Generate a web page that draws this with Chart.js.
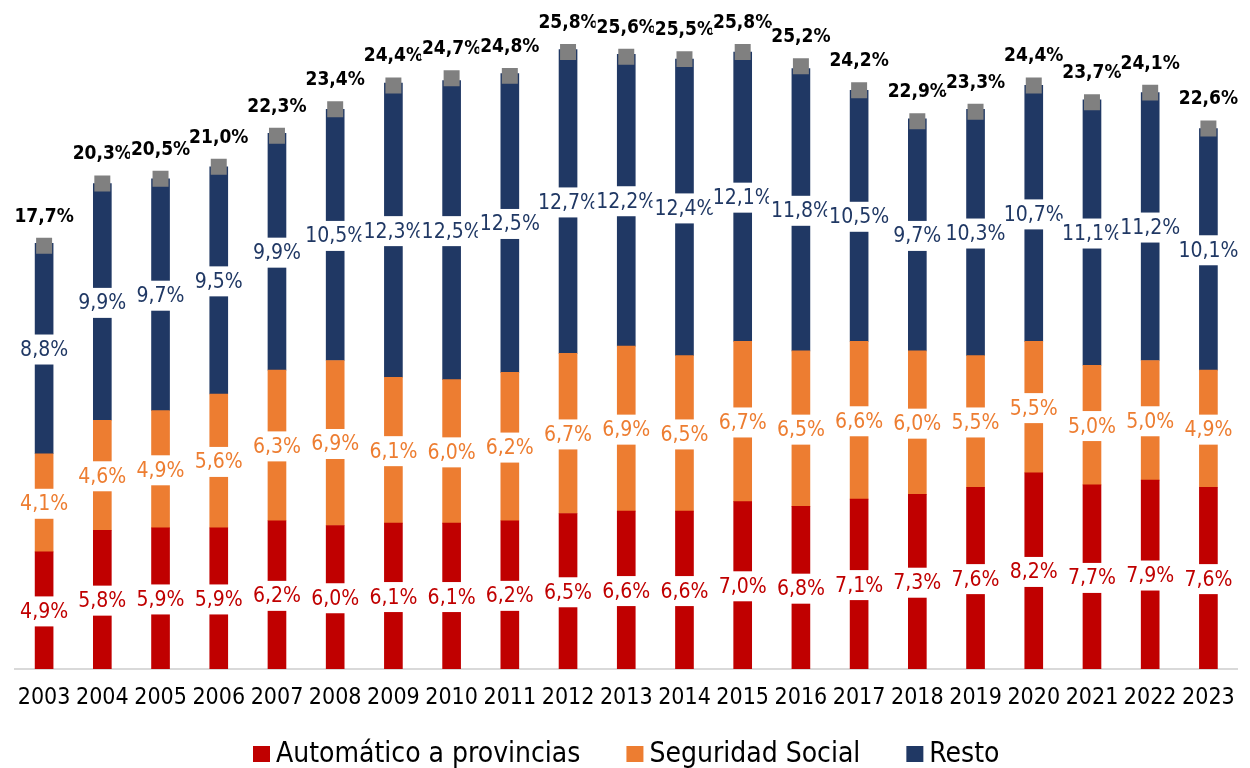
<!DOCTYPE html>
<html><head><meta charset="utf-8">
<script src="https://cdn.jsdelivr.net/npm/chart.js@4/dist/chart.umd.min.js"></script>
<style>html,body{margin:0;padding:0;background:#fff;overflow:hidden}</style>
</head><body>
<canvas id="c" width="1250" height="768" style="width:1250px;height:768px;display:block"></canvas>
<script>
const years = ['2003','2004','2005','2006','2007','2008','2009','2010','2011','2012','2013','2014','2015','2016','2017','2018','2019','2020','2021','2022','2023'];
const automatico = [4.9, 5.8, 5.9, 5.9, 6.2, 6.0, 6.1, 6.1, 6.2, 6.5, 6.6, 6.6, 7.0, 6.8, 7.1, 7.3, 7.6, 8.2, 7.7, 7.9, 7.6];
const seguridad  = [4.1, 4.6, 4.9, 5.6, 6.3, 6.9, 6.1, 6.0, 6.2, 6.7, 6.9, 6.5, 6.7, 6.5, 6.6, 6.0, 5.5, 5.5, 5.0, 5.0, 4.9];
const resto      = [8.8, 9.9, 9.7, 9.5, 9.9, 10.5, 12.3, 12.5, 12.5, 12.7, 12.2, 12.4, 12.1, 11.8, 10.5, 9.7, 10.3, 10.7, 11.1, 11.2, 10.1];
const totales    = [17.7, 20.3, 20.5, 21.0, 22.3, 23.4, 24.4, 24.7, 24.8, 25.8, 25.6, 25.5, 25.8, 25.2, 24.2, 22.9, 23.3, 24.4, 23.7, 24.1, 22.6];
const seriesNames = ['Automático a provincias', 'Seguridad Social', 'Resto'];

const FONT = '"DejaVu Sans Condensed", "DejaVu Sans", sans-serif';
const fmt = v => v.toFixed(1).replace('.', ',') + '%';

const labelPlugin = {
  id: 'segLabels',
  afterDatasetsDraw(chart) {
    const ctx = chart.ctx;
    ctx.save();
    ctx.textAlign = 'center';
    ctx.textBaseline = 'middle';
    chart.data.datasets.forEach((ds, di) => {
      const meta = chart.getDatasetMeta(di);
      if (ds.type === 'line') return;
      ctx.font = '21px ' + FONT;
      meta.data.forEach((el, i) => {
        const cy = (el.y + el.base) / 2 + 1;
        const txt = fmt(ds.data[i]);
        const w = ctx.measureText(txt).width + 4;
        ctx.fillStyle = '#ffffff';
        ctx.fillRect(el.x - w / 2, cy - 15, w, 30);
        ctx.fillStyle = ds.labelColor;
        ctx.fillText(txt, el.x, cy + 1);
      });
    });
    chart.data.datasets.forEach((ds, di) => {
      if (ds.type !== 'line') return;
      const meta = chart.getDatasetMeta(di);
      ctx.font = 'bold 19px ' + FONT;
      meta.data.forEach((el, i) => {
        const cy = el.y - 30;
        const txt = fmt(ds.data[i]);
        const w = ctx.measureText(txt).width + 2;
        ctx.fillStyle = '#ffffff';
        ctx.fillRect(el.x - w / 2, cy - 11, w, 22);
        ctx.fillStyle = '#000000';
        ctx.fillText(txt, el.x, cy + 1);
      });
    });
    ctx.restore();
  }
};

const legendPlugin = {
  id: 'bottomLegend',
  afterDraw(chart) {
    const ctx = chart.ctx;
    ctx.save();
    ctx.font = '28px ' + FONT;
    const items = chart.data.datasets.filter(d => d.type !== 'line');
    const box = 17, gap = 6, itemGap = 46;
    const widths = items.map(d => box + gap + ctx.measureText(d.label).width);
    const total = widths.reduce((a, b) => a + b, 0) + itemGap * (items.length - 1);
    const ca = chart.chartArea;
    let x = (ca.left + ca.right) / 2 - total / 2;
    const cy = 754;
    items.forEach((d, i) => {
      ctx.fillStyle = d.backgroundColor;
      ctx.fillRect(x, cy - 8, box, 16);
      ctx.fillStyle = '#000000';
      ctx.textAlign = 'left';
      ctx.textBaseline = 'middle';
      ctx.fillText(d.label, x + box + gap, cy + 1);
      x += widths[i] + itemGap;
    });
    ctx.restore();
  }
};

new Chart(document.getElementById('c'), {
  type: 'bar',
  data: {
    labels: years,
    datasets: [
      { label: seriesNames[0], data: automatico, backgroundColor: '#C00000', labelColor: '#C00000', barThickness: 18, stack: 's' },
      { label: seriesNames[1], data: seguridad, backgroundColor: '#ED7D31', labelColor: '#ED7D31', barThickness: 18, stack: 's' },
      { label: seriesNames[2], data: resto, backgroundColor: '#203864', labelColor: '#203864', barThickness: 18, stack: 's' },
      { type: 'line', label: 'Total', data: totales, showLine: false, pointStyle: 'rect', pointRadius: 11.3, pointHoverRadius: 11.3,
        pointBackgroundColor: '#808080', pointBorderWidth: 0, borderColor: '#808080', order: -1 }
    ]
  },
  options: {
    responsive: false,
    animation: false,
    devicePixelRatio: 1,
    layout: { padding: { left: 15, right: 7, top: 9, bottom: 0 } },
    plugins: { legend: { display: false }, tooltip: { enabled: false } },
    scales: {
      x: {
        stacked: true,
        grid: { display: false, drawTicks: false },
        border: { display: true, color: '#D9D9D9', width: 2 },
        ticks: { font: { family: FONT, size: 23 }, color: '#000000', padding: 15, maxRotation: 0, autoSkip: false },
        afterFit(s) { s.height = 99; }
      },
      y: { stacked: true, display: false, min: 0, max: 27.5 }
    }
  },
  plugins: [labelPlugin, legendPlugin]
});
</script>
</body></html>
